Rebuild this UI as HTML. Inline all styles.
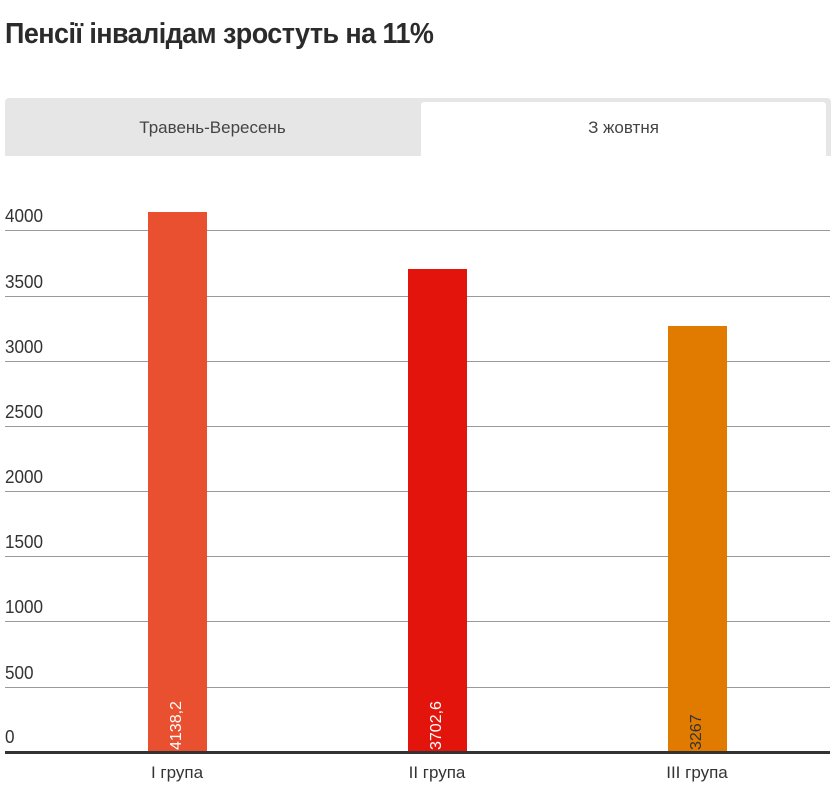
<!DOCTYPE html>
<html><head><meta charset="utf-8"><style>
body{margin:0;width:837px;height:807px;background:#fff;font-family:"Liberation Sans","DejaVu Sans",sans-serif;position:relative;overflow:hidden;color:#333}
.a{position:absolute}
.t{left:5px;top:18px;font-size:29px;font-weight:bold;color:#2b2b2b;letter-spacing:-0.6px;transform:scaleX(0.93);transform-origin:left}
.g{left:5px;width:825px;height:1px;background:#999}
.y{left:5px;font-size:18px;color:#333;transform:scaleX(0.95);transform-origin:left}
.bar{width:59px}
.v{font-size:16px;color:#fff;transform:rotate(-90deg);transform-origin:left top;white-space:nowrap}
.c{font-size:17px;color:#333;width:200px;text-align:center;top:763px}
</style></head><body>
<div class="a t">Пенсії інвалідам зростуть на 11%</div>
<div class="a" style="left:5px;top:98px;width:826px;height:58px;background:#e6e6e6;border-radius:4px 4px 0 0"></div>
<div class="a" style="left:421px;top:102px;width:405px;height:54px;background:#fff;border-radius:3px 3px 0 0"></div>
<div class="a" style="left:5px;top:118px;width:415px;text-align:center;font-size:17px;color:#444">Травень-Вересень</div>
<div class="a" style="left:421px;top:118px;width:405px;text-align:center;font-size:17px;color:#444">З жовтня</div>
<div class="a g" style="top:230px"></div><div class="a y" style="top:206px">4000</div>
<div class="a g" style="top:296px"></div><div class="a y" style="top:272px">3500</div>
<div class="a g" style="top:361px"></div><div class="a y" style="top:337px">3000</div>
<div class="a g" style="top:426px"></div><div class="a y" style="top:402px">2500</div>
<div class="a g" style="top:491px"></div><div class="a y" style="top:467px">2000</div>
<div class="a g" style="top:556px"></div><div class="a y" style="top:532px">1500</div>
<div class="a g" style="top:621px"></div><div class="a y" style="top:597px">1000</div>
<div class="a g" style="top:687px"></div><div class="a y" style="top:663px">500</div>
<div class="a y" style="top:727px">0</div>
<div class="a bar" style="left:148px;top:212px;height:540px;background:#e8502f"></div>
<div class="a bar" style="left:408px;top:269px;height:483px;background:#e2140c"></div>
<div class="a bar" style="left:668px;top:326px;height:426px;background:#e07b00"></div>
<div class="a v" style="left:168px;top:750px">4138,2</div>
<div class="a v" style="left:428px;top:750px">3702,6</div>
<div class="a v" style="left:688px;top:750px;color:#333">3267</div>
<div class="a" style="left:5px;top:751px;width:825px;height:3px;background:#333"></div>
<div class="a c" style="left:77px">I група</div>
<div class="a c" style="left:337px">II група</div>
<div class="a c" style="left:597px">III група</div>
</body></html>
